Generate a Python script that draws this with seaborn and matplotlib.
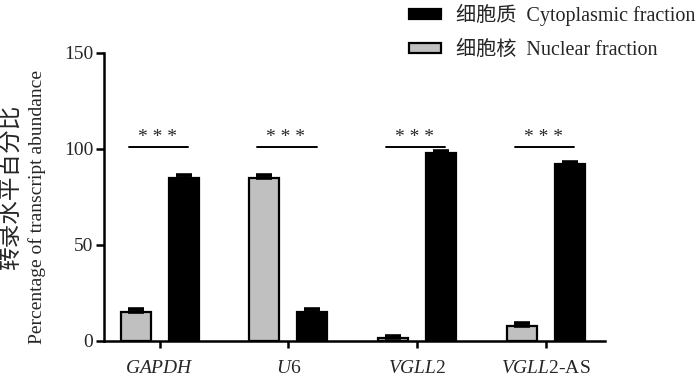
import numpy as np
import pandas as pd
import matplotlib
matplotlib.use("Agg")
import matplotlib.pyplot as plt
import seaborn as sns
from matplotlib.patches import Patch

# data
genes = ["GAPDH", "U6", "VGLL2", "VGLL2-AS"]
gene_labels = [r"$\it{GAPDH}$", r"$\it{U6}$", r"$\it{VGLL2}$", r"$\it{VGLL2}$-AS"]
nuclear = [15, 85, 1.5, 8]
nuclear_err = [1.5, 1.5, 1.0, 1.5]
cytoplasmic = [85, 15, 98, 92]
cytoplasmic_err = [1.5, 1.5, 1.0, 1.0]
fractions = ["细胞核  Nuclear fraction", "细胞质  Cytoplasmic fraction"]
stars = ["* * *", "* * *", "* * *", "* * *"]

sns.set_theme(style="white")
plt.rcParams["font.family"] = ["Liberation Serif", "Noto Sans CJK SC"]
plt.rcParams["mathtext.fontset"] = "custom"
plt.rcParams["mathtext.it"] = "Liberation Serif:italic"
plt.rcParams["mathtext.rm"] = "Liberation Serif"

df = pd.DataFrame({
    "gene": genes * 2,
    "value": nuclear + cytoplasmic,
    "fraction": [fractions[0]] * 4 + [fractions[1]] * 4,
})
colors = {fractions[0]: "#c0c0c0", fractions[1]: "#000000"}

fig = plt.figure(figsize=(7, 3.78), dpi=100)
ax = fig.add_axes([0.149, 0.098, 0.715, 0.762])

sns.barplot(data=df, x="gene", y="value", hue="fraction", hue_order=fractions,
            palette=colors, width=0.745, gap=0.374, errorbar=None,
            edgecolor="black", linewidth=1.6, legend=False, ax=ax)

# error bars (upper only) on top of each bar
errs = nuclear_err + cytoplasmic_err
vals = nuclear + cytoplasmic
for bar, v, e in zip(ax.patches, vals, errs):
    xc = bar.get_x() + bar.get_width() / 2
    ax.errorbar(xc, v, yerr=[[0], [e]], fmt="none", ecolor="black",
                elinewidth=2.2, capsize=5.5, capthick=2.6, zorder=5)

# significance brackets
for i, s in enumerate(stars):
    ax.plot([i - 0.24, i + 0.22], [101, 101], color="black", lw=1.4)
    ax.text(i - 0.02, 101.5, s, ha="center", va="bottom", fontsize=14)

ax.set_ylim(0, 150)
ax.set_xlim(-0.43, 3.46)
ax.set_yticks([0, 50, 100, 150])
ax.set_xticks(range(4))
ax.set_xticklabels(gene_labels)
ax.set_xlabel("")
ax.set_ylabel("Percentage of transcript abundance", fontsize=14)
ax.yaxis.set_label_coords(-0.117, 0.465)
fig.text(0.017, 0.505, "转录水平百分比", rotation=90, ha="center", va="center",
         fontsize=17)

sns.despine(ax=ax)
for sp in ["left", "bottom"]:
    ax.spines[sp].set_linewidth(1.8)
    ax.spines[sp].set_color("black")
ax.tick_params(axis="y", length=6, width=1.8, labelsize=14, pad=2, color="black", left=True)
ax.tick_params(axis="x", length=5, width=1.8, labelsize=14, pad=9, color="black", bottom=True)

handles = [Patch(facecolor="black", edgecolor="black", linewidth=1.6),
           Patch(facecolor="#c0c0c0", edgecolor="black", linewidth=1.6)]
fig.legend(handles, [fractions[1], fractions[0]], loc="upper left",
           bbox_to_anchor=(0.578, 1.0), frameon=False, fontsize=14.5,
           handlelength=1.6, handleheight=0.4, handletextpad=0.75,
           labelspacing=0.75, borderpad=0.2, borderaxespad=0)

fig.savefig("out.png", dpi=100)
